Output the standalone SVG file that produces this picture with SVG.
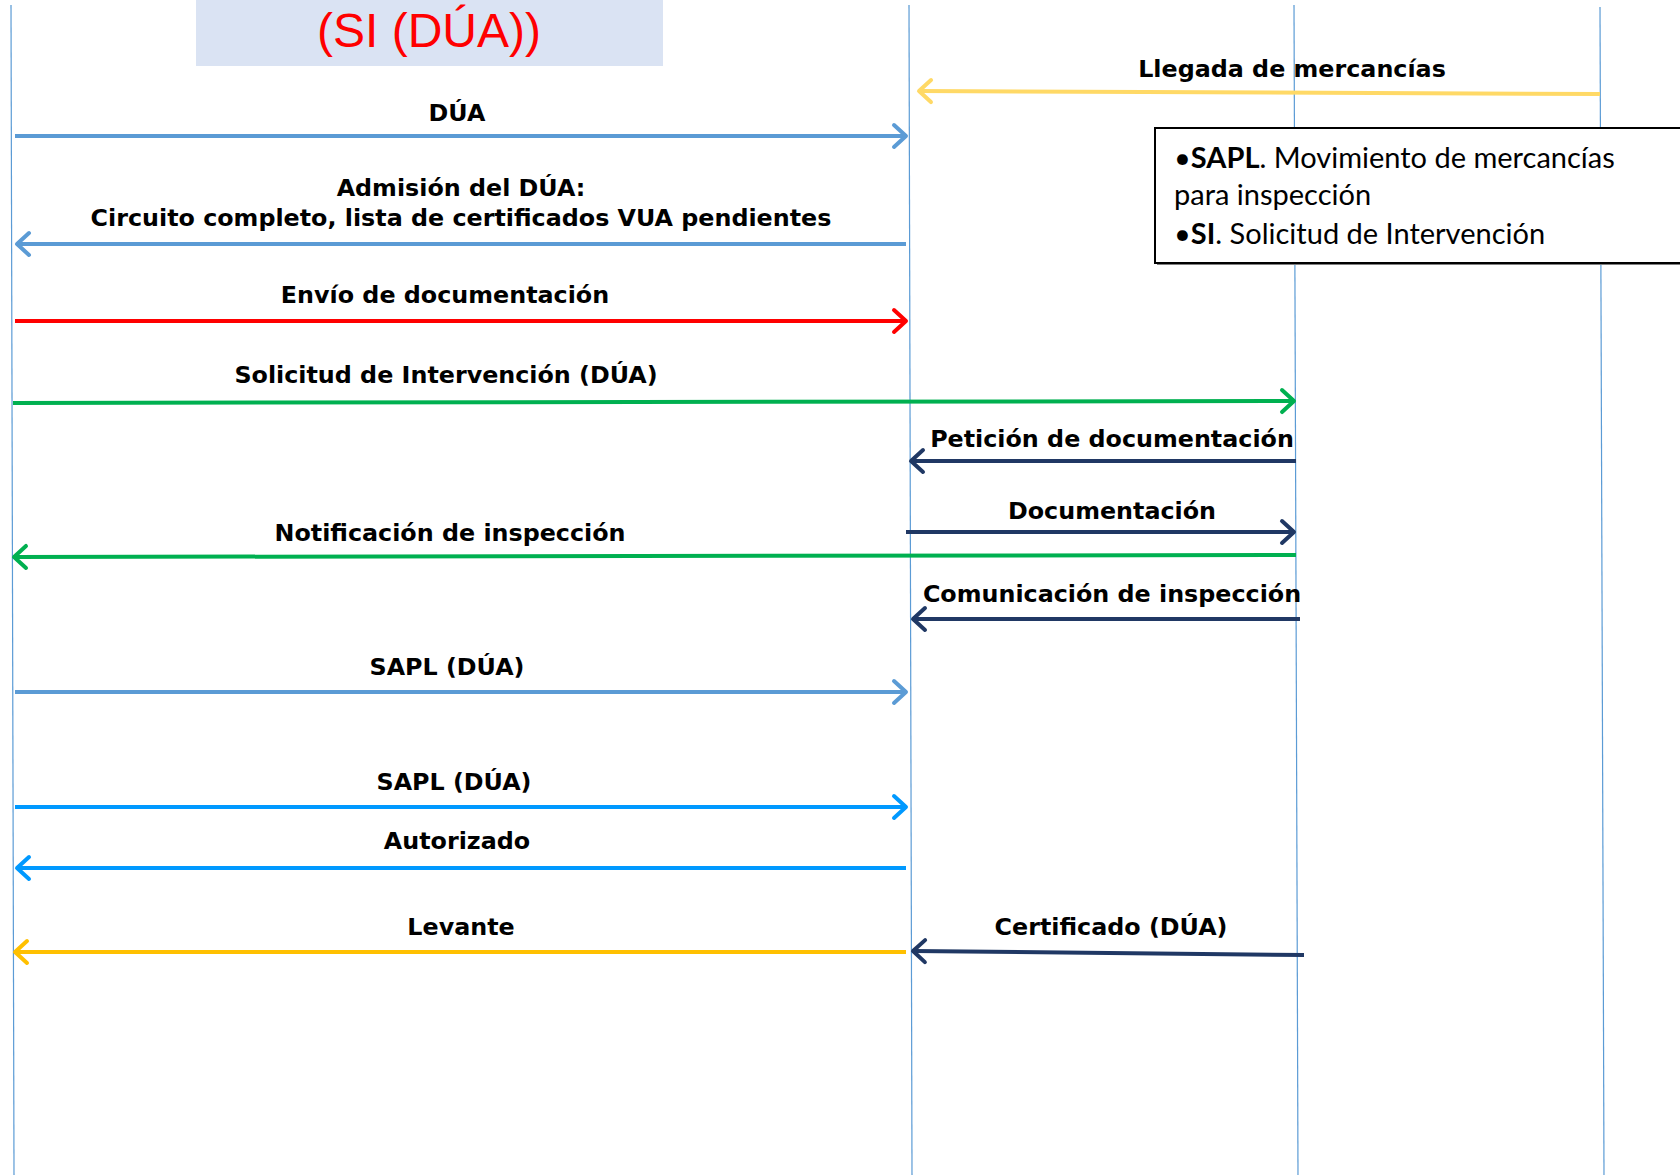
<svg xmlns="http://www.w3.org/2000/svg" width="1680" height="1175" viewBox="0 0 1680 1175">
<style>
.life{stroke:#5b9bd5;stroke-width:1.2;fill:none}
.arr{fill:none;stroke-width:4;stroke-linecap:butt}
.lbl{font-family:"DejaVu Sans",Verdana,sans-serif;font-weight:bold;font-size:23.8px;fill:#000;text-anchor:middle}
.leg{font-family:Lato,"Liberation Sans",sans-serif;font-size:29px;fill:#000}
.head{fill:none;stroke-width:4;stroke-linecap:round;stroke-linejoin:round}
</style>
<defs>
<marker id="mBlue" markerUnits="userSpaceOnUse" markerWidth="30" markerHeight="30" viewBox="-15 -15 30 30" refX="0" refY="0" orient="auto"><path class="head" d="M-12,-11 L0,0 L-12,11" stroke="#5b9bd5"/></marker>
<marker id="mRed" markerUnits="userSpaceOnUse" markerWidth="30" markerHeight="30" viewBox="-15 -15 30 30" refX="0" refY="0" orient="auto"><path class="head" d="M-12,-11 L0,0 L-12,11" stroke="#ff0000"/></marker>
<marker id="mGreen" markerUnits="userSpaceOnUse" markerWidth="30" markerHeight="30" viewBox="-15 -15 30 30" refX="0" refY="0" orient="auto"><path class="head" d="M-12,-11 L0,0 L-12,11" stroke="#00b050"/></marker>
<marker id="mNavy" markerUnits="userSpaceOnUse" markerWidth="30" markerHeight="30" viewBox="-15 -15 30 30" refX="0" refY="0" orient="auto"><path class="head" d="M-12,-11 L0,0 L-12,11" stroke="#203864"/></marker>
<marker id="mSky" markerUnits="userSpaceOnUse" markerWidth="30" markerHeight="30" viewBox="-15 -15 30 30" refX="0" refY="0" orient="auto"><path class="head" d="M-12,-11 L0,0 L-12,11" stroke="#0099ff"/></marker>
<marker id="mAmber" markerUnits="userSpaceOnUse" markerWidth="30" markerHeight="30" viewBox="-15 -15 30 30" refX="0" refY="0" orient="auto"><path class="head" d="M-12,-11 L0,0 L-12,11" stroke="#ffc000"/></marker>
<marker id="mYellow" markerUnits="userSpaceOnUse" markerWidth="30" markerHeight="30" viewBox="-15 -15 30 30" refX="0" refY="0" orient="auto"><path class="head" d="M-12,-11 L0,0 L-12,11" stroke="#ffd966"/></marker>
</defs>
<rect width="1680" height="1175" fill="#ffffff"/>
<g id="lifelines">
<line class="life" x1="11" y1="5" x2="14" y2="1175"/>
<line class="life" x1="909" y1="5" x2="912" y2="1175"/>
<line class="life" x1="1294" y1="5" x2="1298" y2="1175"/>
<line class="life" x1="1600" y1="7" x2="1604" y2="1175"/>
</g>
<g id="title">
<rect x="196" y="0" width="467" height="66" fill="#dae3f3"/>
<text x="429" y="47" font-family="'Liberation Sans',Arial,sans-serif" font-size="48" fill="#ff0000" text-anchor="middle">(SI (DÚA))</text>
</g>
<g id="legend">
<rect x="1157" y="130" width="540" height="135" fill="#7f7f7f"/>
<rect x="1155" y="128" width="540" height="135" fill="#ffffff" stroke="#000" stroke-width="2"/>
<text class="leg" x="1174" y="168">•<tspan font-weight="bold">SAPL</tspan>. Movimiento de mercancías</text>
<text class="leg" x="1174" y="205">para inspección</text>
<text class="leg" x="1174" y="244">•<tspan font-weight="bold">SI</tspan>. Solicitud de Intervención</text>
</g>
<g id="connectors">
<line class="arr" x1="1600" y1="94" x2="919" y2="91" stroke="#ffd966" marker-end="url(#mYellow)"/>
<line class="arr" x1="15" y1="136" x2="906" y2="136" stroke="#5b9bd5" marker-end="url(#mBlue)"/>
<line class="arr" x1="906" y1="244" x2="17" y2="244" stroke="#5b9bd5" marker-end="url(#mBlue)"/>
<line class="arr" x1="15" y1="321" x2="906" y2="321" stroke="#ff0000" marker-end="url(#mRed)"/>
<line class="arr" x1="13" y1="403" x2="1294" y2="401" stroke="#00b050" marker-end="url(#mGreen)"/>
<line class="arr" x1="1296" y1="461" x2="911" y2="461" stroke="#203864" marker-end="url(#mNavy)"/>
<line class="arr" x1="906" y1="532" x2="1294" y2="532" stroke="#203864" marker-end="url(#mNavy)"/>
<line class="arr" x1="1296" y1="555" x2="14" y2="557" stroke="#00b050" marker-end="url(#mGreen)"/>
<line class="arr" x1="1300" y1="619" x2="913" y2="619" stroke="#203864" marker-end="url(#mNavy)"/>
<line class="arr" x1="15" y1="692" x2="906" y2="692" stroke="#5b9bd5" marker-end="url(#mBlue)"/>
<line class="arr" x1="15" y1="807" x2="906" y2="807" stroke="#0099ff" marker-end="url(#mSky)"/>
<line class="arr" x1="906" y1="868" x2="17" y2="868" stroke="#0099ff" marker-end="url(#mSky)"/>
<line class="arr" x1="906" y1="952" x2="15" y2="952" stroke="#ffc000" marker-end="url(#mAmber)"/>
<line class="arr" x1="1304" y1="955" x2="913" y2="951" stroke="#203864" marker-end="url(#mNavy)"/>
</g>
<g id="labels">
<text class="lbl" x="1292" y="77">Llegada de mercancías</text>
<text class="lbl" x="457" y="121">DÚA</text>
<text class="lbl" x="461" y="196">Admisión del DÚA:</text>
<text class="lbl" x="461" y="226">Circuito completo, lista de certificados VUA pendientes</text>
<text class="lbl" x="445" y="303">Envío de documentación</text>
<text class="lbl" x="446" y="383">Solicitud de Intervención (DÚA)</text>
<text class="lbl" x="1112" y="447">Petición de documentación</text>
<text class="lbl" x="1112" y="519">Documentación</text>
<text class="lbl" x="450" y="541">Notificación de inspección</text>
<text class="lbl" x="1112" y="602">Comunicación de inspección</text>
<text class="lbl" x="447" y="675">SAPL (DÚA)</text>
<text class="lbl" x="454" y="790">SAPL (DÚA)</text>
<text class="lbl" x="457" y="849">Autorizado</text>
<text class="lbl" x="461" y="935">Levante</text>
<text class="lbl" x="1111" y="935">Certificado (DÚA)</text>
</g>
</svg>
